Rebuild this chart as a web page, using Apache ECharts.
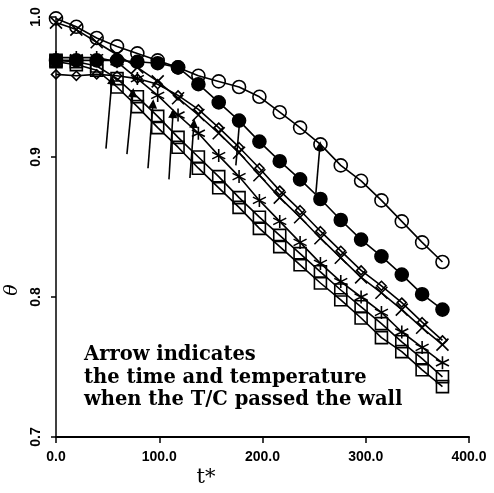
<!DOCTYPE html>
<html>
<head>
<meta charset="utf-8">
<script src="https://cdn.jsdelivr.net/npm/echarts@6/dist/echarts.min.js"></script>
<style>html,body{margin:0;padding:0;background:#fff;}#c{width:494px;height:493px;}</style>
</head>
<body>
<div id="c"></div>
<script>
// Time values t*
var tStar = [0, 19.7, 39.4, 59.1, 78.8, 98.5, 118.2, 137.9, 157.6, 177.3, 197.0, 216.7, 236.4, 256.1, 275.8, 295.5, 315.2, 334.9, 354.6, 374.3];
// theta values per thermocouple series
var openCircle = [0.999, 0.993, 0.985, 0.979, 0.974, 0.969, 0.964, 0.958, 0.954, 0.950, 0.943, 0.932, 0.921, 0.909, 0.894, 0.883, 0.869, 0.854, 0.839, 0.825];
var filledCircle = [0.969, 0.969, 0.969, 0.969, 0.968, 0.967, 0.964, 0.952, 0.939, 0.926, 0.911, 0.897, 0.884, 0.870, 0.855, 0.841, 0.829, 0.816, 0.802, 0.791];
var diamond = [0.959, 0.958, 0.959, 0.958, 0.956, 0.952, 0.944, 0.934, 0.921, 0.907, 0.892, 0.876, 0.862, 0.847, 0.833, 0.819, 0.808, 0.796, 0.782, 0.769];
var cross = [0.996, 0.991, 0.982, 0.973, 0.964, 0.954, 0.942, 0.930, 0.917, 0.903, 0.887, 0.871, 0.857, 0.842, 0.828, 0.814, 0.803, 0.791, 0.778, 0.766];
var star = [0.971, 0.971, 0.971, 0.968, 0.956, 0.944, 0.930, 0.917, 0.901, 0.886, 0.869, 0.854, 0.839, 0.824, 0.811, 0.800, 0.789, 0.775, 0.764, 0.753];
var squareA = [0.969, 0.968, 0.965, 0.956, 0.943, 0.929, 0.914, 0.900, 0.886, 0.871, 0.857, 0.844, 0.831, 0.818, 0.805, 0.793, 0.781, 0.768, 0.756, 0.743];
var squareB = [0.968, 0.966, 0.962, 0.950, 0.936, 0.921, 0.907, 0.892, 0.878, 0.864, 0.849, 0.836, 0.823, 0.810, 0.798, 0.785, 0.771, 0.761, 0.748, 0.736];
// Arrows: [base t, base theta, tip t, tip theta]
var arrows = [
  [48.4, 0.906, 54.2, 0.955],
  [68.7, 0.902, 74.5, 0.946],
  [89.1, 0.892, 93.9, 0.938],
  [109.4, 0.884, 113.3, 0.931],
  [129.7, 0.885, 133.6, 0.924],
  [174.2, 0.894, 178.1, 0.928],
  [251.7, 0.874, 255.6, 0.908]
];
var xTicks = [0, 100, 200, 300, 400];
var yTicks = [0.7, 0.8, 0.9, 1.0];
var note = ['Arrow indicates', 'the time and temperature', 'when the T/C passed the wall'];

function pairs(v){ return tStar.map(function(t,i){ return [t, v[i]]; }); }
var clear = 'rgba(0,0,0,0)';
function mk(name, vals, symbol, size, fill){
  return {
    name: name, type: 'line', data: pairs(vals), symbol: symbol, symbolSize: size,
    showAllSymbol: true,
    lineStyle: {color: '#000', width: 1.6},
    itemStyle: {color: fill, borderColor: '#000', borderWidth: 1.6},
    z: 3
  };
}
var xPath = 'path://M0,0L10,10M10,0L0,10';
var starPath = 'path://M5,0L5,10M0.7,2.5L9.3,7.5M0.7,7.5L9.3,2.5';

var chart = echarts.init(document.getElementById('c'), null, {renderer: 'canvas'});
chart.setOption({
  animation: false,
  backgroundColor: '#fff',
  grid: {left: 56, right: 25, top: 17, bottom: 56, containLabel: false},
  xAxis: {
    type: 'value', min: xTicks[0], max: xTicks[xTicks.length-1], interval: 100,
    axisLine: {lineStyle: {color: '#000', width: 2}},
    axisTick: {show: true, inside: false, length: 6, lineStyle: {color: '#000', width: 1.5}},
    axisLabel: {color: '#000', fontFamily: 'Liberation Sans', fontWeight: 'bold', fontSize: 14, margin: 13,
      formatter: function(v){ return v.toFixed(1); }},
    splitLine: {show: false}
  },
  yAxis: {
    type: 'value', min: yTicks[0], max: yTicks[yTicks.length-1], interval: 0.1,
    axisLine: {show: true, lineStyle: {color: '#000', width: 1.5}},
    axisTick: {show: true, inside: false, length: 5, lineStyle: {color: '#000', width: 1.5}},
    axisLabel: {color: '#000', fontFamily: 'Liberation Sans', fontWeight: 'bold', fontSize: 14, rotate: 90, margin: 13,
      formatter: function(v){ return v.toFixed(1); }},
    splitLine: {show: false}
  },
  series: [
    mk('open circle', openCircle, 'circle', 13, clear),
    mk('filled circle', filledCircle, 'circle', 13, '#000'),
    mk('diamond', diamond, 'diamond', 9, clear),
    mk('cross', cross, xPath, 12, clear),
    mk('star', star, starPath, 13, clear),
    mk('square A', squareA, 'rect', 12, clear),
    mk('square B', squareB, 'rect', 12, clear),
    {
      type: 'lines', coordinateSystem: 'cartesian2d', z: 5,
      symbol: ['none', 'triangle'], symbolSize: [0, 9],
      lineStyle: {color: '#000', width: 1.6, opacity: 1},
      data: arrows.map(function(a){ return {coords: [[a[0], a[1]], [a[2], a[3]]]}; })
    }
  ],
  graphic: [
    {type: 'text', left: 84, top: 344, z: 10,
     style: {text: note.join('\n'), font: 'bold 19.5px "DejaVu Serif"', lineHeight: 22.5, fill: '#000'}},
    {type: 'text', x: 12, y: 290, rotation: Math.PI/2, z: 10,
     style: {text: 'θ', font: 'italic 19px "DejaVu Serif"', align: 'center', verticalAlign: 'middle', fill: '#000'}},
    {type: 'text', x: 206, y: 478, z: 10,
     style: {text: 't*', font: '21px "DejaVu Serif"', align: 'center', verticalAlign: 'middle', fill: '#000'}}
  ]
});
</script>
</body>
</html>
